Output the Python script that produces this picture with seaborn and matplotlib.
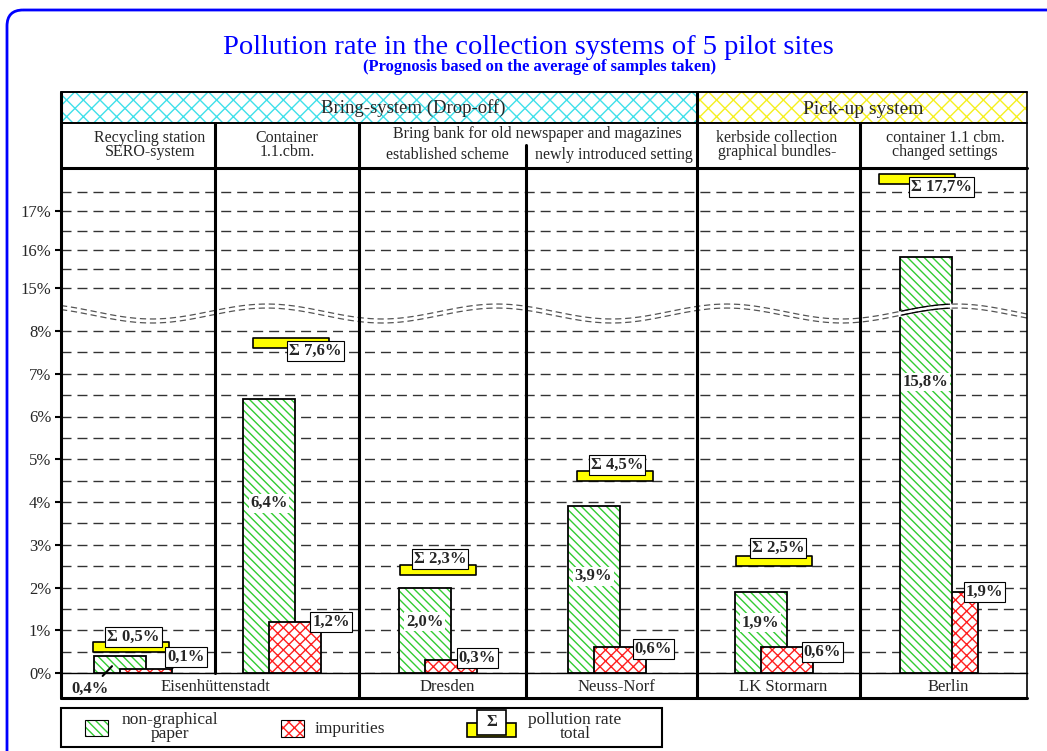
import numpy as np
import matplotlib
matplotlib.use('Agg')
import matplotlib.pyplot as plt
import matplotlib.path as mpath
from matplotlib.patches import Rectangle, FancyBboxPatch
import seaborn as sns

# ---- data ----
system_groups = ['Bring-system (Drop-off)', 'Pick-up system']
column_heads = ['Recycling station\nSERO-system', 'Container\n1.1.cbm.',
                'established scheme', 'newly introduced setting',
                'kerbside collection\ngraphical bundles-', 'container 1.1 cbm.\nchanged settings']
bring_bank_head = 'Bring bank for old newspaper and magazines'
sites = ['Eisenhüttenstadt', 'Dresden', 'Neuss-Norf', 'LK Stormarn', 'Berlin']
site_span = [2, 1, 1, 1, 1]

non_graphical = [0.4, 6.4, 2.0, 3.9, 1.9, 15.8]
impurities = [0.1, 1.2, 0.3, 0.6, 0.6, 1.9]
totals = [0.5, 7.6, 2.3, 4.5, 2.5, 17.7]

y_major = [0, 1, 2, 3, 4, 5, 6, 7, 8, 15, 16, 17]
y_minor = [0.5, 1.5, 2.5, 3.5, 4.5, 5.5, 6.5, 7.5, 15.5, 16.5, 17.5]

# ---- layout (pixel based, figure is 1047 x 751) ----
W, H = 1047, 751
edges = np.array([61, 215, 359, 526, 697, 860, 1027])
centers = (edges[:-1] + edges[1:]) / 2
BAR_W = 52
green_x = centers - 18
red_x = centers + 8
yellow_dx = [-7, 4, -4.5, 3, -4.5, -26.5]
sigma_off = [(2.5, 14.5), (24.5, -3), (2, 16), (2.5, 15.5), (4, 18), (24.5, -3)]
red_off = [(14, 12), (10, 0), (1, 2), (8, -2), (10, -5), (7, 0)]
green_frac = [None, 0.62, 0.6, 0.58, 0.62, 0.70]
Y0, YT = 673, 168
U_TOP = (Y0 - YT) / 42.75

GREEN = '#33cc33'
RED = '#ff2020'
BLUE = '#0000ff'
LBL = 12


def fwd(v):
    v = np.asarray(v, dtype=float)
    return np.where(v <= 8, v, np.where(v <= 15, 8 + (v - 8) / 7, 9 + (v - 15) * 0.9))


def inv(u):
    u = np.asarray(u, dtype=float)
    return np.where(u <= 8, u, np.where(u <= 9, 8 + (u - 8) * 7, 15 + (u - 9) / 0.9))


def pct(v):
    return f"{v:.1f}%".replace('.', ',')


sns.set_style('white')
plt.rcParams['font.family'] = ['Liberation Serif', 'DejaVu Serif']
plt.rcParams['hatch.linewidth'] = 1.0

fig = plt.figure(figsize=(W / 100, H / 100), dpi=100)
ax = fig.add_axes([edges[0] / W, (H - Y0) / H, (edges[-1] - edges[0]) / W, (Y0 - YT) / H])
ax.set_yscale('function', functions=(fwd, inv))


def draw_bars(xpos, vals, hatch_col, hatch, z):
    w = BAR_W / np.diff(np.sort(xpos)).min()
    out = []
    for layer in ('hatch', 'outline'):
        n0 = len(ax.patches)
        sns.barplot(x=list(xpos), y=vals, orient='x', native_scale=True, width=w,
                    errorbar=None, ax=ax)
        new = ax.patches[n0:]
        for p in new:
            if layer == 'hatch':
                p.set(facecolor='white', edgecolor=hatch_col, hatch=hatch, linewidth=0, zorder=z)
            else:
                p.set(facecolor='none', edgecolor='black', linewidth=1.3, zorder=z + 0.1)
        out.append(new)
    return out


g_patches = draw_bars(green_x, non_graphical, GREEN, '\\\\\\\\', 3)
r_patches = draw_bars(red_x, impurities, RED, 'xxx', 3.2)
# Berlin: the impurities bar sits behind the paper bar
r_patches[0][5].set_zorder(2.5)
r_patches[1][5].set_zorder(2.6)

# total markers (yellow) with Σ labels
yellow_x = centers + np.array(yellow_dx)
rect = mpath.Path([(-38, 0), (38, 0), (38, 10), (-38, 10), (-38, 0)], closed=True)
sns.scatterplot(x=yellow_x, y=totals, marker=rect, s=(76 * 0.72) ** 2, color='#ffff00',
                edgecolor='black', linewidth=1.2, zorder=5, ax=ax, legend=False)
for i, t in enumerate(totals):
    ax.annotate(f"Σ {pct(t)}", xy=(yellow_x[i], t), xytext=sigma_off[i], textcoords='offset pixels',
                ha='center', va='center', fontsize=LBL, fontweight='bold', zorder=6,
                bbox=dict(boxstyle='square,pad=0.12', fc='white', ec='black', lw=0.8))

# labels on paper bars
for i, v in enumerate(non_graphical):
    if green_frac[i] is None:
        ax.annotate(pct(v), xy=(green_x[i] - 8, 0.16), xytext=(90, -0.38), textcoords='data',
                    ha='center', va='center', fontsize=LBL, fontweight='bold',
                    annotation_clip=False, zorder=6,
                    arrowprops=dict(arrowstyle='-', lw=1.5, color='black', shrinkA=2, shrinkB=0))
    else:
        ax.text(green_x[i], float(inv(green_frac[i] * fwd(v))), pct(v), ha='center', va='center',
                fontsize=LBL, fontweight='bold', zorder=6,
                bbox=dict(boxstyle='square,pad=0.08', fc='white', ec='none'))

# labels on impurity bars
for i, v in enumerate(impurities):
    arrow = dict(arrowstyle='-', lw=1, color='black') if i == 0 else None
    ax.annotate(pct(v), xy=(red_x[i] + BAR_W / 2, v), xytext=red_off[i], textcoords='offset pixels',
                ha='center', va='center', fontsize=LBL, fontweight='bold', zorder=6,
                arrowprops=arrow,
                bbox=dict(boxstyle='square,pad=0.12', fc='white', ec='black', lw=0.8))

# axis break wave
xw = np.linspace(edges[0], edges[-1], 500)
phase = 2 * np.pi * (xw - 267) / 230
u_up = 8.456 + 0.175 * np.cos(phase)
u_lo = u_up - 0.094
ax.fill_between(xw, inv(u_lo - 0.02), inv(u_up + 0.02), color='white', zorder=4, lw=0)
for uu in (u_up, u_lo):
    ax.plot(xw, inv(uu), color='#555555', lw=0.9, ls=(0, (5, 3)), zorder=4.5)
    m = (xw >= green_x[5] - BAR_W / 2) & (xw <= green_x[5] + BAR_W / 2)
    ax.plot(xw[m], inv(uu)[m], color='black', lw=0.9, zorder=4.6)

ax.set_xlim(edges[0], edges[-1])
ax.set_ylim(0, float(inv(U_TOP)))
ax.set_xticks([])
ax.set_yticks(y_major)
ax.set_yticklabels([f"{t}%" for t in y_major])
ax.set_yticks(y_minor, minor=True)
ax.set_xlabel('')
ax.set_ylabel('')
ax.set_axisbelow(True)
ax.grid(True, which='both', axis='y', color='#333333', lw=1.0, ls=(0, (7.2, 4.3)))
ax.tick_params(axis='y', which='major', length=4, width=1.5, direction='out', labelsize=12,
               pad=3, left=True, color='black')
ax.tick_params(axis='y', which='minor', length=0)
for s in ('top', 'right', 'left'):
    ax.spines[s].set_visible(False)
ax.spines['bottom'].set_color('black')
ax.spines['bottom'].set_linewidth(1)

# ---- overlay in pixel coordinates: frame, headers, legend ----
ov = fig.add_axes([0, 0, 1, 1], zorder=5)
ov.set_xlim(0, W)
ov.set_ylim(H, 0)
ov.axis('off')
ov.patch.set_alpha(0)

ov.add_patch(FancyBboxPatch((7, 10), 1100, 800, boxstyle='round,pad=0,rounding_size=16',
                            fc='none', ec=BLUE, lw=2))
ov.text(528, 47, 'Pollution rate in the collection systems of 5 pilot sites', color=BLUE,
        fontsize=20.5, ha='center', va='center')
ov.text(540, 67, '(Prognosis based on the average of samples taken)', color=BLUE,
        fontsize=12, fontweight='bold', ha='center', va='center')

# system bands
ov.add_patch(Rectangle((edges[0], 92), edges[4] - edges[0], 31, fc='white', ec='#3fe0ea',
                       hatch='xx', lw=0))
ov.add_patch(Rectangle((edges[4], 92), edges[-1] - edges[4], 31, fc='white', ec='#f5f020',
                       hatch='xx', lw=0))
ov.text((edges[0] + edges[4]) / 2 + 34, 108, system_groups[0], fontsize=13.5, ha='center', va='center')
ov.text((edges[4] + edges[-1]) / 2 + 1, 109, system_groups[1], fontsize=14, ha='center', va='center')

# column heads
head_pos = [(150, 145), (287, 145), (447, 155), (614, 155), (777, 145), (945, 145)]
for (hx, hy), txt in zip(head_pos, column_heads):
    ov.text(hx, hy, txt, fontsize=11.5, ha='center', va='center', linespacing=0.85)
ov.text(537, 134, bring_bank_head, fontsize=11.5, ha='center', va='center')

# site names in the bottom row
k = 0
for name, span in zip(sites, site_span):
    ov.text((edges[k] + edges[k + span]) / 2 + 5, 687, name, fontsize=12, ha='center', va='center')
    k += span

# frame lines
L, R = edges[0], edges[-1]
ov.plot([L, R], [92, 92], color='black', lw=1.4)
ov.plot([L, R], [123, 123], color='black', lw=1.4)
ov.plot([L, R], [168, 168], color='black', lw=2.2)
ov.plot([L, R], [698, 698], color='black', lw=2.2)
ov.plot([L, L], [92, 698], color='black', lw=2.2)
ov.plot([R, R], [92, 698], color='black', lw=1.2)
div_spans = {215: (123, 673), 359: (123, 698), 526: (145, 698), 697: (92, 698), 860: (123, 698)}
for dx_, (y1, y2) in div_spans.items():
    ov.plot([dx_, dx_], [y1, y2], color='black', lw=2.2)

# legend
ov.add_patch(Rectangle((61, 708), 601, 39, fc='white', ec='black', lw=1.5))
ov.add_patch(Rectangle((85, 720), 23, 16, fc='white', ec=GREEN, hatch='\\\\\\\\', lw=0))
ov.add_patch(Rectangle((85, 720), 23, 16, fc='none', ec='black', lw=0.8))
ov.text(170, 727, 'non-graphical\npaper', fontsize=12.5, ha='center', va='center', linespacing=0.8)
ov.add_patch(Rectangle((281, 720), 23, 17, fc='white', ec=RED, hatch='xxx', lw=0))
ov.add_patch(Rectangle((281, 720), 23, 17, fc='none', ec='black', lw=0.8))
ov.text(315, 729, 'impurities', fontsize=12.5, ha='left', va='center')
ov.add_patch(Rectangle((467, 723), 49, 14, fc='#ffff00', ec='black', lw=1.2))
ov.add_patch(Rectangle((477, 710), 29, 25, fc='white', ec='black', lw=1.2))
ov.text(491.5, 722, 'Σ', fontsize=12, fontweight='bold', ha='center', va='center')
ov.text(575, 727, 'pollution rate\ntotal', fontsize=12.5, ha='center', va='center', linespacing=0.8)

fig.savefig('out.png', dpi=100)
